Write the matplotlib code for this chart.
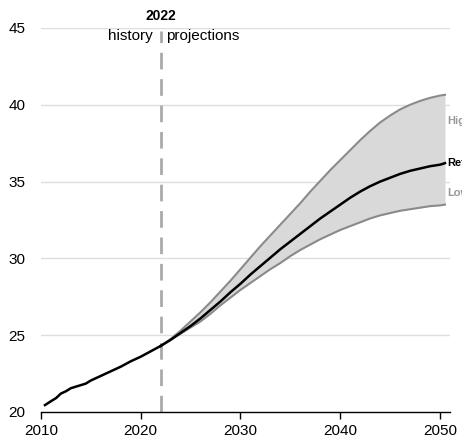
import matplotlib
matplotlib.use("Agg")
import matplotlib.pyplot as plt

plt.rcParams['font.family'] = ['Liberation Sans', 'DejaVu Sans']

# Historical series
hist_years = [2010.4, 2011, 2011.5, 2012, 2012.5, 2013, 2013.5, 2014, 2014.5,
              2015, 2016, 2017, 2018, 2019, 2020, 2021, 2022]
hist_vals = [20.45, 20.7, 20.9, 21.2, 21.35, 21.55, 21.65, 21.75, 21.85,
             22.05, 22.35, 22.65, 22.95, 23.3, 23.6, 23.95, 24.3]

# Projection cases
proj_years = list(range(2022, 2051)) + [2050.5]
ref_vals = [24.3, 24.7, 25.15, 25.6, 26.1, 26.65, 27.2, 27.8, 28.35, 28.95,
            29.5, 30.05, 30.6, 31.1, 31.6, 32.1, 32.6, 33.05, 33.5, 33.95,
            34.35, 34.7, 35.0, 35.25, 35.5, 35.7, 35.85, 36.0, 36.1, 36.2]
high_vals = [24.3, 24.75, 25.3, 25.9, 26.5, 27.15, 27.85, 28.55, 29.3, 30.05,
             30.8, 31.5, 32.2, 32.9, 33.6, 34.35, 35.05, 35.75, 36.4, 37.05,
             37.7, 38.3, 38.85, 39.3, 39.7, 40.0, 40.25, 40.45, 40.6, 40.65]
low_vals = [24.3, 24.7, 25.1, 25.5, 25.9, 26.4, 26.95, 27.45, 27.95, 28.4,
            28.85, 29.3, 29.7, 30.15, 30.55, 30.9, 31.25, 31.55, 31.85, 32.1,
            32.35, 32.6, 32.8, 32.95, 33.1, 33.2, 33.3, 33.4, 33.45, 33.5]

case_labels = ["High", "Ref", "Low"]
label_vals = [38.95, 36.2, 34.25]
label_colors = ["#999999", "#000000", "#999999"]

x_ticks = [2010, 2020, 2030, 2040, 2050]
y_ticks = [20, 25, 30, 35, 40, 45]
divider_year = 2022

fig = plt.figure(figsize=(4.62, 4.42), dpi=100)
ax = fig.add_axes([0.0887, 0.0679, 0.8853, 0.8688])

ax.set_xlim(2010, 2051)
ax.set_ylim(20, 45)

for y in y_ticks[1:]:
    ax.axhline(y, color="#dddddd", lw=1.0, zorder=0)

ax.fill_between(proj_years, low_vals, high_vals, color="#d9d9d9", lw=0, zorder=1)
ax.plot(proj_years, high_vals, color="#8a8a8a", lw=1.5, zorder=2)
ax.plot(proj_years, low_vals, color="#8a8a8a", lw=1.5, zorder=2)
ax.plot(proj_years, ref_vals, color="black", lw=1.8, zorder=3)
ax.plot(hist_years, hist_vals, color="black", lw=1.8, zorder=3)

ax.plot([divider_year, divider_year], [20, 44.8], color="#aaaaaa", lw=2,
        dashes=(6, 3.5), zorder=2, solid_capstyle="butt")

ax.text(divider_year, 45.8, str(divider_year), ha="center", va="center",
        fontsize=10, fontweight="bold")
ax.text(divider_year - 0.8, 44.45, "history", ha="right", va="center", fontsize=11)
ax.text(divider_year + 0.5, 44.45, "projections", ha="left", va="center", fontsize=11)

for lab, v, c in zip(case_labels, label_vals, label_colors):
    ax.text(2050.7, v, lab, ha="left", va="center", fontsize=8,
            fontweight="bold", color=c, clip_on=False)

for s in ["top", "right", "left"]:
    ax.spines[s].set_visible(False)
ax.spines["bottom"].set_color("black")
ax.spines["bottom"].set_linewidth(1.0)

ax.set_xticks(x_ticks)
ax.set_yticks(y_ticks)
ax.tick_params(axis="x", direction="out", length=5, width=1, labelsize=11, pad=4)
ax.tick_params(axis="y", length=0, labelsize=11, pad=11)

fig.savefig("out.png", dpi=100)
